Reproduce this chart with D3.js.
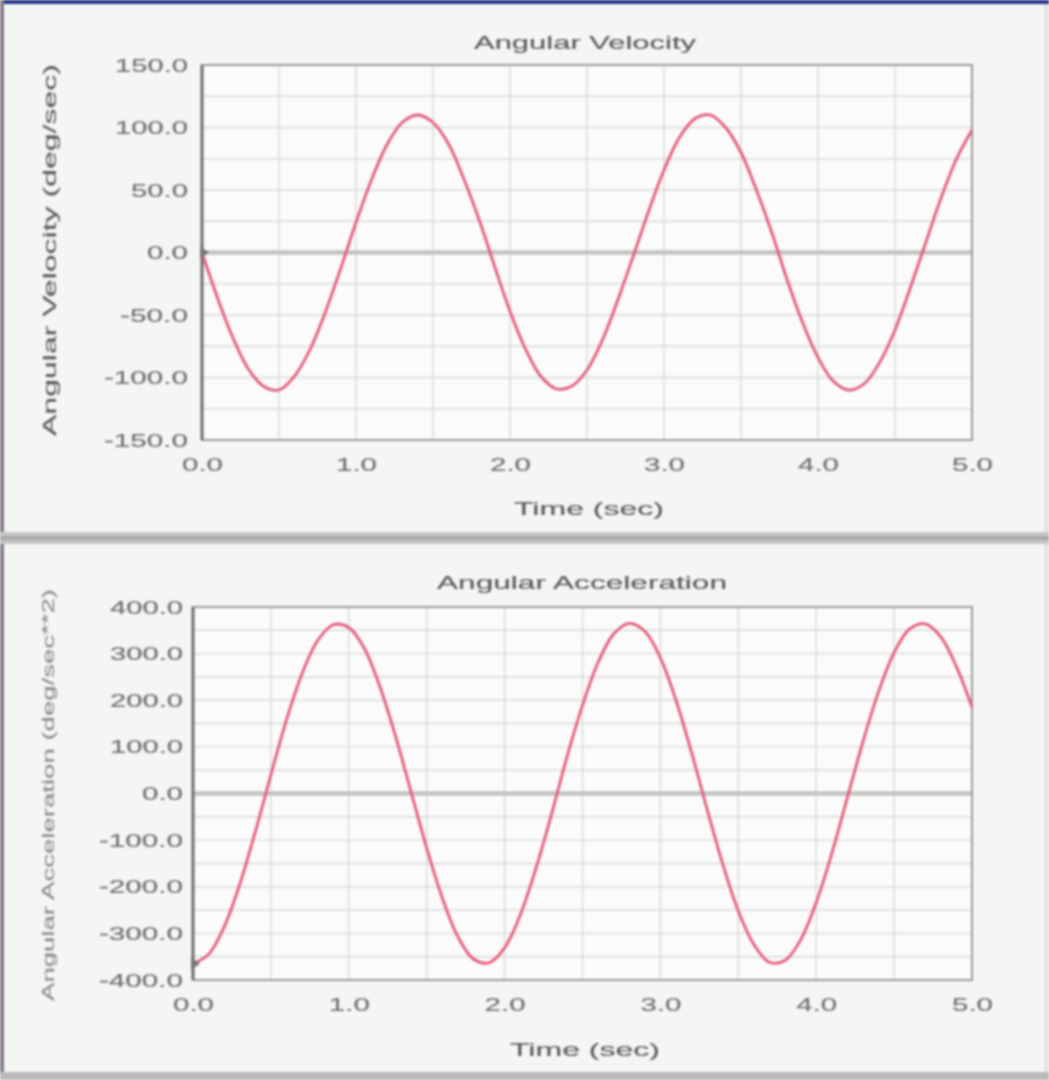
<!DOCTYPE html>
<html><head><meta charset="utf-8">
<script src="https://cdn.jsdelivr.net/npm/d3@7"></script>
<style>
html,body{margin:0;padding:0;background:#f4f6f4;}
svg{display:block;filter:blur(0.9px);}
</style></head>
<body><svg id="c" width="1049" height="1080"></svg>
<script>
// ---- data ----
const timeValues = [0.0,0.1,0.2,0.3,0.4,0.5,0.6,0.7,0.8,0.9,1.0,1.1,1.2,1.3,1.4,1.5,1.6,1.7,1.8,1.9,2.0,2.1,2.2,2.3,2.4,2.5,2.6,2.7,2.8,2.9,3.0,3.1,3.2,3.3,3.4,3.5,3.6,3.7,3.8,3.9,4.0,4.1,4.2,4.3,4.4,4.5,4.6,4.7,4.8,4.9,5.0];
const velocityValues = [0,-36,-68,-93,-107,-110,-99,-78,-48,-13,24,58,86,104,110,104,87,59,26,-11,-47,-77,-99,-109,-107,-94,-70,-38,-3,33,66,92,107,110,100,80,50,16,-22,-56,-84,-103,-110,-105,-88,-62,-28,8,44,75,98];
const accelerationValues = [-365,-345,-286,-195,-82,40,158,257,328,362,356,311,229,123,3,-117,-224,-307,-355,-363,-331,-261,-162,-46,78,189,281,342,365,348,291,200,88,-34,-151,-252,-324,-362,-358,-314,-234,-129,-9,111,218,302,353,364,336,272,185];
const xTicks = [0,1,2,3,4,5];
const velTicks = [150,100,50,0,-50,-100,-150];
const accTicks = [400,300,200,100,0,-100,-200,-300,-400];
const titles = ["Angular Velocity","Angular Acceleration"];
const yLabels = ["Angular Velocity (deg/sec)","Angular Acceleration (deg/sec**2)"];
const xLabel = "Time (sec)";

const FONT = "Liberation Sans, Arial, sans-serif";
const fmt = d => d3.format(".1f")(d).replace("\u2212","-");
const labLen = s => [...s].reduce((a,c)=>a+(c==="."?9:c==="-"?11:16),0);

const svg = d3.select("#c");
// window frame
svg.append("rect").attr("x",0).attr("y",0).attr("width",1049).attr("height",1080).attr("fill","#f4f6f4");
svg.append("rect").attr("x",0).attr("y",0).attr("width",1049).attr("height",4).attr("fill","#24338a");
svg.append("rect").attr("x",0).attr("y",0).attr("width",4).attr("height",1080).attr("fill","#857c8c");
svg.append("rect").attr("x",1044).attr("y",4).attr("width",5).attr("height",1076).attr("fill","#e2e4e2");
svg.append("rect").attr("x",0).attr("y",532).attr("width",1049).attr("height",12).attr("fill","#c4c6c4");
svg.append("rect").attr("x",0).attr("y",536).attr("width",1049).attr("height",4).attr("fill","#aaacaa");
svg.append("rect").attr("x",0).attr("y",1072).attr("width",1049).attr("height",8).attr("fill","#b8bab8");

function styleText(sel,size,fill,sw){
  sel.attr("font-family",FONT).attr("font-size",size).attr("fill",fill).attr("stroke",fill).attr("stroke-width",sw);
}

function panel(cfg){
  const x = d3.scaleLinear().domain([0,5]).range([cfg.x0,cfg.x1]);
  const y = d3.scaleLinear().domain([cfg.yMin,cfg.yMax]).range([cfg.y1,cfg.y0]);
  const g = svg.append("g");
  g.append("rect").attr("x",cfg.x0).attr("y",cfg.y0).attr("width",cfg.x1-cfg.x0).attr("height",cfg.y1-cfg.y0).attr("fill","#fafbfa");
  // grid
  const vx = d3.range(0,5.01,0.5);
  g.selectAll(".gv").data(vx).join("line").attr("x1",d=>x(d)).attr("x2",d=>x(d)).attr("y1",cfg.y0).attr("y2",cfg.y1)
    .attr("stroke","#d8dad8").attr("stroke-width",1.4);
  const hy = d3.range(cfg.yMin,cfg.yMax+0.01,cfg.gridStep);
  g.selectAll(".gh").data(hy).join("line").attr("x1",cfg.x0).attr("x2",cfg.x1).attr("y1",d=>y(d)).attr("y2",d=>y(d))
    .attr("stroke","#d8dad8").attr("stroke-width",1.4);
  // zero line
  g.append("line").attr("x1",cfg.x0).attr("x2",cfg.x1).attr("y1",y(0)).attr("y2",y(0)).attr("stroke","#c2c4c2").attr("stroke-width",4.5);
  // frame
  g.append("rect").attr("x",cfg.x0).attr("y",cfg.y0).attr("width",cfg.x1-cfg.x0).attr("height",cfg.y1-cfg.y0)
    .attr("fill","none").attr("stroke","#9a9c9a").attr("stroke-width",2);
  // axes
  const ax = g.append("g").attr("transform",`translate(0,${cfg.y1})`)
    .call(d3.axisBottom(x).tickValues(xTicks).tickFormat(fmt).tickSize(0).tickPadding(cfg.xPad));
  const ay = g.append("g").attr("transform",`translate(${cfg.x0},0)`)
    .call(d3.axisLeft(y).tickValues(cfg.ticks).tickFormat(fmt).tickSize(0).tickPadding(cfg.pad));
  [ax,ay].forEach(a=>{
    a.select(".domain").remove();
    const t = a.selectAll("text");
    styleText(t,19,"#707070",0.2);
    t.attr("textLength",function(){return labLen(this.textContent);}).attr("lengthAdjust","spacingAndGlyphs");
  });
  ay.append("line").attr("x1",0).attr("x2",0).attr("y1",cfg.y0).attr("y2",cfg.y1).attr("stroke","#6a6c6a").attr("stroke-width",3);
  // curve
  const line = d3.line().x((d,i)=>x(timeValues[i])).y(d=>y(d)).curve(d3.curveCatmullRom);
  g.append("path").datum(cfg.values).attr("d",line).attr("fill","none").attr("stroke","#e45c7c").attr("stroke-width",2.8);
  // cursor marker
  const mv = cfg.values[0];
  g.append("path").attr("d",`M${x(0)-2},${y(mv)-6}L${x(0)+7},${y(mv)}L${x(0)-2},${y(mv)+6}Z`).attr("fill","#777");
  // titles
  const tt = g.append("text").attr("x",cfg.titleX).attr("y",cfg.titleY).attr("text-anchor","middle").text(cfg.title);
  styleText(tt,19,"#5a5a5a",0.15); tt.attr("textLength",cfg.titleLen).attr("lengthAdjust","spacingAndGlyphs");
  const xl = g.append("text").attr("x",cfg.xlabX).attr("y",cfg.xlabY).attr("text-anchor","middle").text(xLabel);
  styleText(xl,19,"#5a5a5a",0.15); xl.attr("textLength",150).attr("lengthAdjust","spacingAndGlyphs");
  const yl = g.append("text").attr("transform",`translate(${cfg.ylabX},${cfg.ylabC}) rotate(-90)`).attr("text-anchor","middle").text(cfg.ylab);
  styleText(yl,cfg.ylabSize,cfg.ylabFill,0.15);
  yl.attr("textLength",cfg.ylabLen).attr("lengthAdjust","spacingAndGlyphs");
}

panel({x0:202,x1:972,y0:65,y1:440,yMin:-150,yMax:150,gridStep:25,ticks:velTicks,values:velocityValues,pad:14,xPad:18,
  title:titles[0],titleX:585,titleY:49,titleLen:222,xlabX:589,xlabY:515,
  ylab:yLabels[0],ylabX:56,ylabC:250,ylabSize:19,ylabFill:"#5e5e5e",ylabLen:372});
panel({x0:193,x1:972,y0:607,y1:980,yMin:-400,yMax:400,gridStep:50,ticks:accTicks,values:accelerationValues,pad:10,xPad:18,
  title:titles[1],titleX:582,titleY:589,titleLen:290,xlabX:585,xlabY:1056,
  ylab:yLabels[1],ylabX:54,ylabC:795,ylabSize:17,ylabFill:"#8c8c8c",ylabLen:412});
</script></body></html>
